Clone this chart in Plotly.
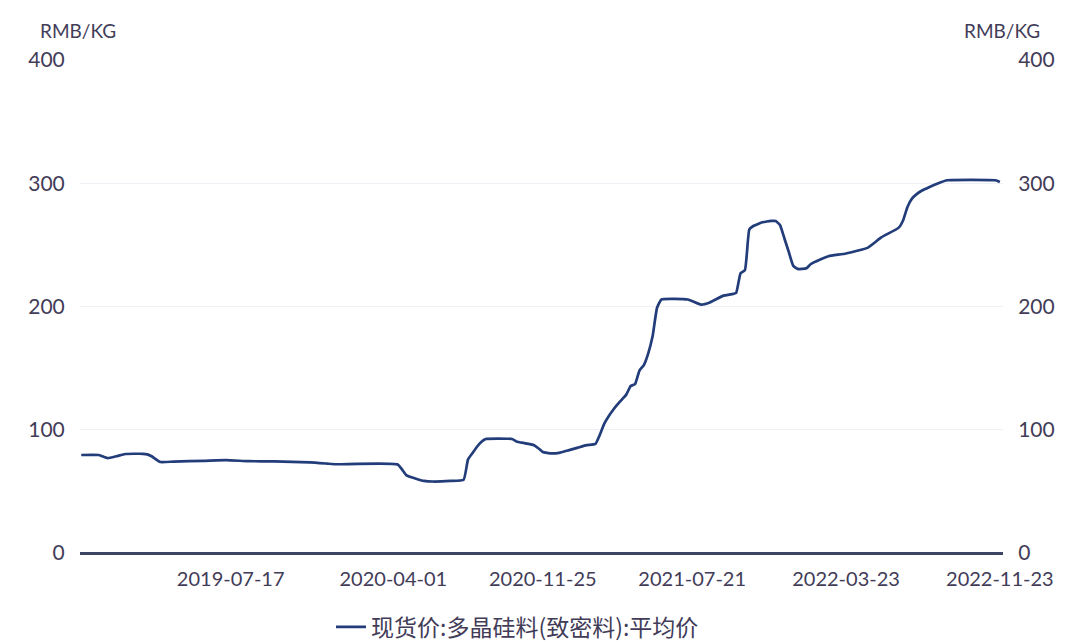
import plotly.graph_objects as go

dates = [
    "2018-11-21", "2018-12-19", "2019-01-02", "2019-01-16", "2019-01-30", "2019-02-27",
    "2019-03-06", "2019-03-13", "2019-03-27", "2019-04-17", "2019-06-05", "2019-07-10",
    "2019-08-14", "2019-09-25", "2019-11-20", "2019-12-18", "2020-01-01", "2020-04-08",
    "2020-04-22", "2020-05-06", "2020-05-20", "2020-06-03", "2020-07-01", "2020-07-22",
    "2020-07-29", "2020-08-05", "2020-08-12", "2020-08-19", "2020-08-26", "2020-10-07",
    "2020-10-14", "2020-10-28", "2020-11-11", "2020-11-18", "2020-11-25", "2020-12-09",
    "2020-12-23", "2021-01-06", "2021-01-20", "2021-02-03", "2021-02-17", "2021-02-24",
    "2021-03-03", "2021-03-10", "2021-03-17", "2021-03-24", "2021-03-31", "2021-04-07",
    "2021-04-14", "2021-04-21", "2021-04-28", "2021-05-05", "2021-05-12", "2021-05-19",
    "2021-05-26", "2021-06-02", "2021-07-14", "2021-08-04", "2021-08-18", "2021-09-08",
    "2021-09-22", "2021-09-29", "2021-10-06", "2021-10-13", "2021-10-20", "2021-10-27",
    "2021-11-03", "2021-11-10", "2021-11-17", "2021-11-24", "2021-12-01", "2021-12-08",
    "2021-12-15", "2021-12-22", "2021-12-29", "2022-01-05", "2022-01-12", "2022-01-19",
    "2022-01-26", "2022-02-09", "2022-02-23", "2022-03-23", "2022-04-27", "2022-05-18",
    "2022-06-15", "2022-06-22", "2022-06-29", "2022-07-06", "2022-07-13", "2022-07-20",
    "2022-08-03", "2022-08-17", "2022-08-31", "2022-11-16", "2022-11-23",
]
prices = [
    79.5, 79.5, 77.0, 78.5, 80.3, 80.5,
    80.0, 78.5, 73.8, 74.2, 74.8, 75.3,
    74.5, 74.3, 73.5, 72.5, 72.0, 71.8,
    63.0, 60.5, 58.5, 58.0, 58.5, 59.5,
    76.0, 81.0, 86.0, 90.0, 92.5, 92.5,
    90.5, 89.0, 87.5, 85.0, 82.0, 80.8,
    81.5, 83.5, 85.5, 87.5, 88.5, 96.0,
    105.0, 111.0, 116.0, 120.5, 124.5, 128.5,
    135.5, 137.0, 148.0, 152.5, 162.0, 176.0,
    199.0, 205.7, 205.7, 201.6, 203.3, 208.6,
    210.0, 211.0, 227.0, 229.5, 262.5, 265.5,
    267.0, 268.3, 269.0, 269.4, 269.4, 266.0,
    255.0, 244.0, 233.0, 230.5, 230.5, 231.0,
    234.5, 238.0, 240.8, 243.0, 247.8, 256.0,
    264.0, 270.0, 281.0, 287.5, 291.0, 293.5,
    297.0, 300.0, 302.4, 302.4, 301.0,
]

tick_dates = ["2019-07-17", "2020-04-01", "2020-11-25", "2021-07-21", "2022-03-23", "2022-11-23"]
y_ticks = [0, 100, 200, 300, 400]
series_name = "现货价:多晶硅料(致密料):平均价"
unit = "RMB/KG"

line_color = "#223d7a"
text_color = "#423c58"
font_family = "Lato, 'Noto Sans CJK SC', sans-serif"

fig = go.Figure()
fig.add_trace(go.Scatter(
    x=dates, y=prices, mode="lines", name=series_name,
    line=dict(color=line_color, width=2.7, shape="spline", smoothing=0.4),
))
# same series mapped on the right-hand axis (invisible) so its ticks render
fig.add_trace(go.Scatter(
    x=dates, y=prices, mode="lines", yaxis="y2", showlegend=False,
    hoverinfo="skip", line=dict(color="rgba(0,0,0,0)", width=0),
))

fig.update_layout(
    width=1080, height=642,
    margin=dict(l=80, r=77, t=60, b=89),
    paper_bgcolor="#ffffff", plot_bgcolor="#ffffff",
    font=dict(family=font_family, color=text_color, size=20),
    showlegend=True,
    legend=dict(
        orientation="h", x=0.474, xanchor="center",
        yref="container", y=1 - 627 / 642, yanchor="middle",
        font=dict(size=23, family="'Noto Sans CJK SC', sans-serif", color=text_color),
        bgcolor="rgba(0,0,0,0)",
    ),
    xaxis=dict(
        type="date", range=["2018-11-19", "2022-11-28"],
        tickvals=tick_dates, ticktext=tick_dates,
        showgrid=False, zeroline=False, showline=False, automargin=False,
        ticks="outside", ticklen=8, tickcolor="rgba(0,0,0,0)",
        tickfont=dict(size=20, color=text_color),
    ),
    yaxis=dict(
        range=[0, 400], tickvals=y_ticks, automargin=False,
        showgrid=True, gridcolor="#eef0f6", gridwidth=1,
        zeroline=True, zerolinecolor="#3d4562", zerolinewidth=2.5,
        showline=False,
        ticks="outside", ticklen=10, tickcolor="rgba(0,0,0,0)",
        tickfont=dict(size=21, color=text_color),
    ),
    yaxis2=dict(
        range=[0, 400], tickvals=y_ticks, overlaying="y", side="right", automargin=False,
        showgrid=False, zeroline=False, showline=False,
        ticks="outside", ticklen=10, tickcolor="rgba(0,0,0,0)",
        tickfont=dict(size=21, color=text_color),
    ),
    annotations=[
        dict(text=unit, xref="paper", yref="paper", x=(118 - 80) / 923, y=(553 - 31) / 493,
             xanchor="right", yanchor="middle", showarrow=False,
             font=dict(size=19, color=text_color)),
        dict(text=unit, xref="paper", yref="paper", x=(1042 - 80) / 923, y=(553 - 31) / 493,
             xanchor="right", yanchor="middle", showarrow=False,
             font=dict(size=19, color=text_color)),
    ],
)

fig.write_html("out.html", config={"displayModeBar": False},
               post_script="document.body.style.margin='0';")
